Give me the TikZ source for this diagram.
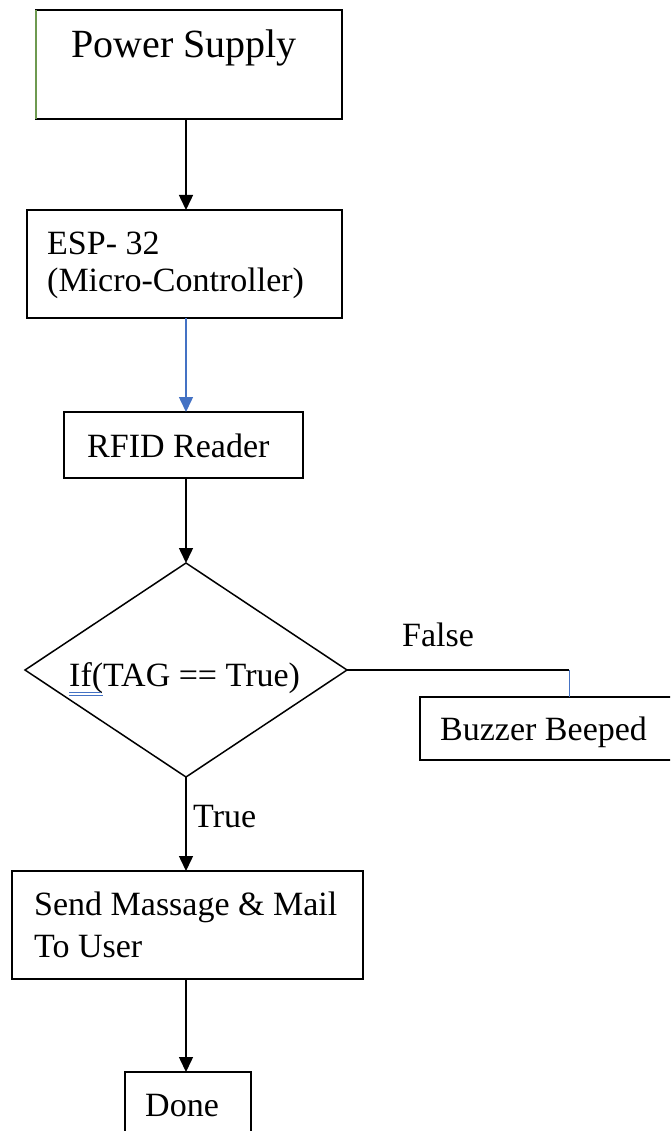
\documentclass[tikz,border=0pt]{standalone}
\usepackage{fontspec}
\setmainfont{Liberation Serif}
\usetikzlibrary{shapes.geometric,arrows.meta}
\definecolor{wordblue}{HTML}{4472C4}
\definecolor{edgegreen}{HTML}{6E9A50}
\tikzstyle{fbox} = [draw,rectangle,line width=1.5pt,inner sep=0pt,outer sep=0pt,anchor=north west]
\tikzstyle{ftext} = [inner sep=0pt,anchor=base west,align=left,font=\fontsize{34}{36}\selectfont]
\tikzstyle{fline} = [line width=1.5pt]
\tikzstyle{farrow} = [fline,-{Triangle[length=15pt,width=14pt]}]

\begin{document}
\begin{tikzpicture}[x=1pt,y=-1pt]
	\path[use as bounding box,clip] (0,0) rectangle (670,1131);

	\node(power) at (36,10) [fbox,minimum width=306pt,minimum height=109pt] {};
	\draw[line width=1.5pt,edgegreen] (power.north west) -- (power.south west);
	\node(powerlabel) at (71,58) [ftext,font=\fontsize{40}{44}\selectfont] {Power Supply};

	\node(esp) at (27,210) [fbox,minimum width=315pt,minimum height=108pt] {};
	% base anchor is the last line
	\node(esplabel) at (47,291) [ftext,font=\fontsize{34}{36}\selectfont] {ESP- 32\\(Micro-Controller)};

	\node(rfid) at (64,412) [fbox,minimum width=239pt,minimum height=66pt] {};
	\node(rfidlabel) at (87,457) [ftext] {RFID Reader};

	\node(dec) at (186,670) [diamond,draw,line width=1.5pt,inner sep=0pt,outer sep=0pt,minimum width=322pt,minimum height=214pt] {};
	\node(declabel) at (69,686) [ftext] {If(TAG == True)};
	\draw[wordblue,line width=1pt] (69,692) -- (101,692) (69,695) -- (103,695);

	\node(buzzer) at (420,697) [fbox,minimum width=260pt,minimum height=63pt] {};
	\node(buzzerlabel) at (440,740) [ftext] {Buzzer Beeped};

	\node(send) at (12,871) [fbox,minimum width=351pt,minimum height=108pt] {};
	\node(sendlabel) at (34,957) [ftext,font=\fontsize{34}{42}\selectfont] {Send Massage \& Mail\\To User};

	\node(done) at (125,1072) [fbox,minimum width=126pt,minimum height=80pt] {};
	\node(donelabel) at (145,1116) [ftext] {Done};

	% connectors
	\coordinate(axis) at (186,0);
	\coordinate(falseturn) at (569,670);
	\draw[farrow] (power.south -| axis) -- (esp.north -| axis);
	\draw[farrow,wordblue] (esp.south -| axis) -- (rfid.north -| axis);
	\draw[farrow] (rfid.south -| axis) -- (dec.north);
	\draw[fline] (dec.east) -- (falseturn);
	\draw[wordblue,line width=1pt] (falseturn) -- (falseturn |- buzzer.north);
	\draw[farrow] (dec.south) -- (send.north -| axis);
	\draw[farrow] (send.south -| axis) -- (done.north -| axis);

	\node(falselabel) at (402,646) [ftext] {False};
	\node(truelabel) at (193,827) [ftext] {True};
\end{tikzpicture}
\end{document}
